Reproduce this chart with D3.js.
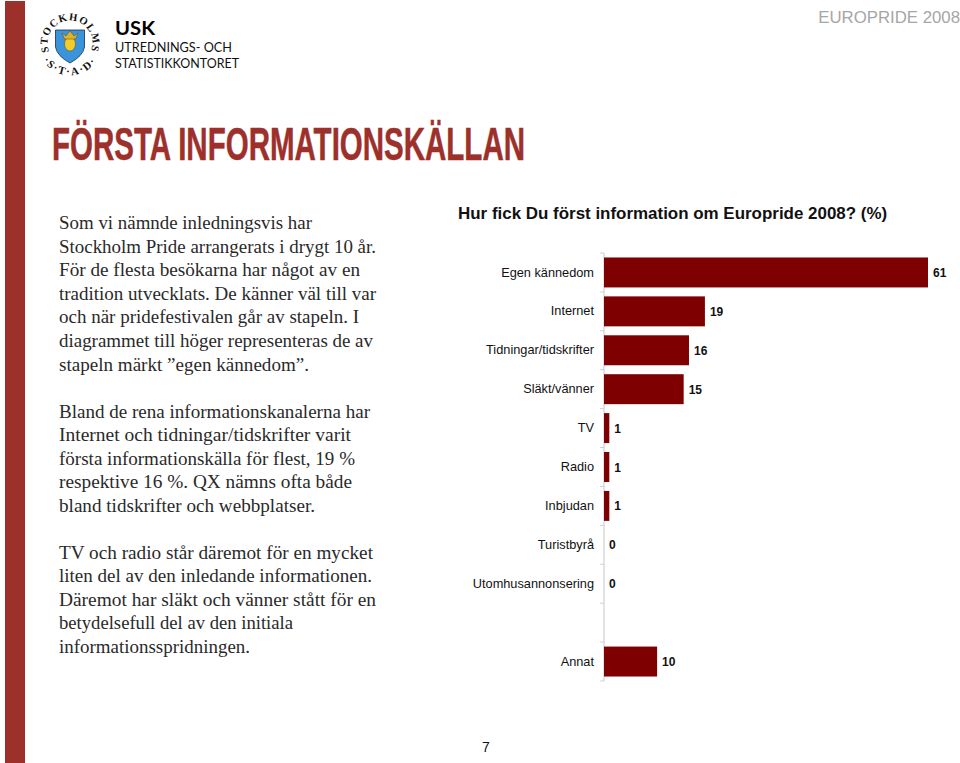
<!DOCTYPE html>
<html>
<head>
<meta charset="utf-8">
<style>
  html, body { margin: 0; padding: 0; background: #fff; }
  text { white-space: pre; }
  .domain { display: none; }
</style>
<script src="https://cdn.jsdelivr.net/npm/d3@7"></script>
</head>
<body>
<svg id="page" width="960" height="763"></svg>
<script>
// Survey answers. The blank category is the gap before "Annat".
var categories = ['Egen kännedom', 'Internet', 'Tidningar/tidskrifter', 'Släkt/vänner', 'TV', 'Radio',
  'Inbjudan', 'Turistbyrå', 'Utomhusannonsering', ' ', 'Annat']
var values = [61, 19, 16, 15, 1, 1, 1, 0, 0, null, 10]

var para1 = ['Som vi nämnde inledningsvis har', 'Stockholm Pride arrangerats i drygt 10 år.',
  'För de flesta besökarna har något av en', 'tradition utvecklats. De känner väl till var',
  'och när pridefestivalen går av stapeln. I', 'diagrammet till höger representeras de av',
  'stapeln märkt ”egen kännedom”.']
var para2 = ['Bland de rena informationskanalerna har', 'Internet och tidningar/tidskrifter varit',
  'första informationskälla för flest, 19 %', 'respektive 16 %. QX nämns ofta både',
  'bland tidskrifter och webbplatser.']
var para3 = ['TV och radio står däremot för en mycket', 'liten del av den inledande informationen.',
  'Däremot har släkt och vänner stått för en', 'betydelsefull del av den initiala',
  'informationsspridningen.']

// The body font is a Garamond we don't have, so each line gets fitted to its measured width
var para1Widths = [253, 317, 301, 317, 300, 314, 250]
var para2Widths = [311, 292, 296, 293, 256]
var para3Widths = [314, 313, 317, 234, 191]

var red = '#9d302b'
  , barColor = '#7f0000'
  , svg = d3.select('#page')

svg.append('rect').attr('x', 5).attr('y', 1).attr('width', 20).attr('height', 762).attr('fill', red)

// Logo
var logo = svg.append('g').attr('transform', 'translate(70,43)')
logo.append('path').attr('id', 'ringTop').attr('fill', 'none')
  .attr('d', 'M-20.5,9 A22.4,22.4 0 1 1 20.5,9')
logo.append('path').attr('id', 'ringBottom').attr('fill', 'none')
  .attr('d', 'M-29,14 A32.2,32.2 0 0 0 29,14')
logo.append('text').attr('font-family', 'Liberation Serif').attr('font-size', 10.5).attr('font-weight', 'bold')
  .attr('text-anchor', 'middle').attr('fill', '#111')
  .append('textPath').attr('href', '#ringTop').attr('startOffset', '50%')
  .attr('letter-spacing', 1.2).text('STOCKHOLMS')
logo.append('text').attr('font-family', 'Liberation Serif').attr('font-size', 11).attr('font-weight', 'bold')
  .attr('text-anchor', 'middle').attr('fill', '#111')
  .append('textPath').attr('href', '#ringBottom').attr('startOffset', '50%')
  .attr('letter-spacing', 1.8).text('·S·T·A·D·')
logo.append('path').attr('fill', '#3a94dc').attr('stroke', '#14304f').attr('stroke-width', 0.8)
  .attr('d', 'M-14.5,-13 H14.5 V4 Q13,13 0,20 Q-13,13 -14.5,4 Z')
logo.append('ellipse').attr('cy', 1).attr('rx', 5.5).attr('ry', 7).attr('fill', '#f2cb2c')
  .attr('stroke', '#5a4a10').attr('stroke-width', 0.5)
logo.append('path').attr('fill', '#e0b32a').attr('stroke', '#5a4a10').attr('stroke-width', 0.5)
  .attr('d', 'M-8,-10 L-4,-7 L0,-12 L4,-7 L8,-10 L5.5,-4 H-5.5 Z')

svg.append('text').attr('x', 115).attr('y', 35).attr('font-family', 'Lato').attr('font-weight', 'bold')
  .attr('font-size', 18).attr('fill', '#000').attr('textLength', 40).attr('lengthAdjust', 'spacingAndGlyphs')
  .text('USK')
svg.append('text').attr('x', 115).attr('y', 52).attr('font-family', 'Lato')
  .attr('font-size', 13).attr('fill', '#111').attr('textLength', 117).attr('lengthAdjust', 'spacingAndGlyphs')
  .text('UTREDNINGS- OCH')
svg.append('text').attr('x', 115).attr('y', 68).attr('font-family', 'Lato')
  .attr('font-size', 13).attr('fill', '#111').attr('textLength', 124).attr('lengthAdjust', 'spacingAndGlyphs')
  .text('STATISTIKKONTORET')

svg.append('text').attr('x', 960).attr('y', 23).attr('text-anchor', 'end')
  .attr('font-family', 'Liberation Sans').attr('font-size', 16.8).attr('fill', '#a6a6a6').text('EUROPRIDE 2008')

svg.append('text').attr('x', 52).attr('y', 160).attr('font-family', 'Liberation Sans Narrow, Liberation Sans')
  .attr('font-weight', 'bold').attr('font-size', 47).attr('fill', red).attr('stroke', red).attr('stroke-width', 0.5)
  .attr('textLength', 473).attr('lengthAdjust', 'spacingAndGlyphs').text('FÖRSTA INFORMATIONSKÄLLAN')

// Body text
var drawPara = function(lines, widths, firstBaseline) {
  svg.append('g').selectAll('text').data(lines).enter().append('text')
    .attr('x', 59)
    .attr('y', function(d, i) { return firstBaseline + i * 23.6 })
    .attr('font-family', 'Liberation Serif').attr('font-size', 19).attr('fill', '#2a2a2a')
    .attr('textLength', function(d, i) { return widths[i] })
    .attr('lengthAdjust', 'spacingAndGlyphs')
    .text(function(d) { return d })
}
drawPara(para1, para1Widths, 229)
drawPara(para2, para2Widths, 417.5)
drawPara(para3, para3Widths, 558.5)

// Chart
svg.append('text').attr('x', 458).attr('y', 219).attr('font-family', 'Liberation Sans').attr('font-weight', 'bold')
  .attr('font-size', 16.95).attr('fill', '#111').text('Hur fick Du först information om Europride 2008? (%)')

var x = d3.scaleLinear().domain([0, 61]).range([604, 928])
var y = d3.scaleBand().domain(categories).range([253, 681]).paddingInner(0.23).paddingOuter(0.115)

svg.append('g').attr('transform', 'translate(604,0)')
  .call(d3.axisLeft(y).tickSize(0).tickPadding(10))
  .call(function(g) {
    g.selectAll('text').attr('font-family', 'Liberation Sans').attr('font-size', 12.75).attr('fill', '#111')
  })

// Axis line and the ticks between the categories
var edges = categories.map(function(d) { return y(d) - y.step() * 0.115 }).concat(681)
svg.append('line').attr('x1', 604).attr('x2', 604).attr('y1', 253).attr('y2', 681)
  .attr('stroke', '#d0d0d0').attr('stroke-width', 1.2)
svg.append('g').selectAll('line').data(edges).enter().append('line')
  .attr('x1', 600).attr('x2', 604)
  .attr('y1', function(d) { return d }).attr('y2', function(d) { return d })
  .attr('stroke', '#d0d0d0')

var rows = svg.append('g').selectAll('g').data(categories).enter().append('g')
  .filter(function(d, i) { return values[i] !== null })
rows.append('rect')
  .attr('x', x(0))
  .attr('y', function(d) { return y(d) })
  .attr('width', function(d) { return x(values[categories.indexOf(d)]) - x(0) })
  .attr('height', y.bandwidth())
  .attr('fill', barColor)
rows.append('text')
  .attr('x', function(d) { return x(values[categories.indexOf(d)]) + 5 })
  .attr('y', function(d) { return y(d) + y.bandwidth() / 2 + 4.5 })
  .attr('font-family', 'Liberation Sans').attr('font-weight', 'bold').attr('font-size', 12).attr('fill', '#111')
  .text(function(d) { return values[categories.indexOf(d)] })

svg.append('text').attr('x', 482).attr('y', 752).attr('font-family', 'Liberation Sans')
  .attr('font-size', 14).attr('fill', '#111').text('7')
</script>
</body>
</html>
